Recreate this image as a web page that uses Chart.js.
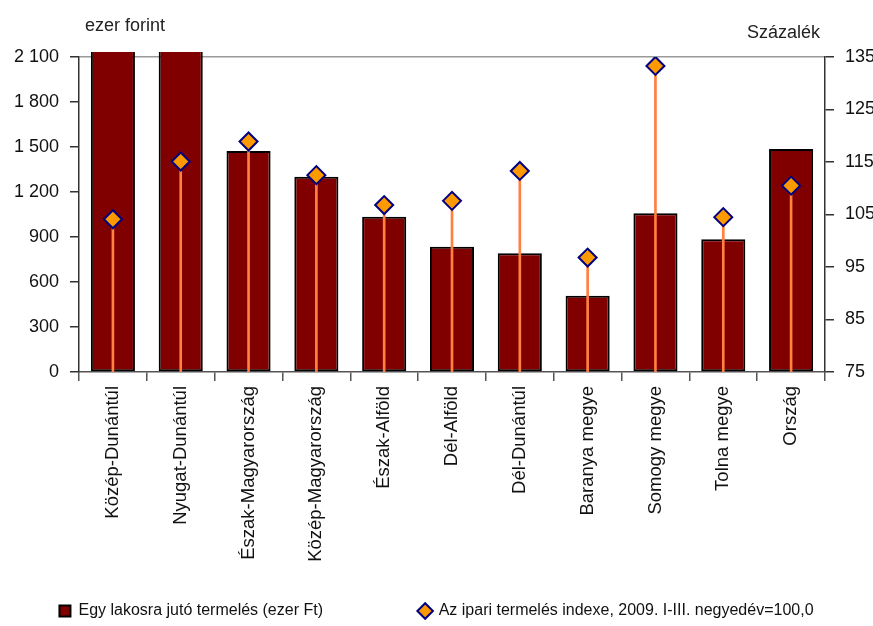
<!DOCTYPE html>
<html>
<head>
<meta charset="utf-8">
<script src="https://cdn.jsdelivr.net/npm/chart.js@4/dist/chart.umd.min.js"></script>
<style>
  html, body { margin: 0; padding: 0; background: #fff; }
  #wrap { width: 873px; height: 626px; }
</style>
</head>
<body>
<div id="wrap"><canvas id="termelesChart"></canvas></div>
<script>
// regiok / megyek
const categories = ['Közép-Dunántúl', 'Nyugat-Dunántúl', 'Észak-Magyarország', 'Közép-Magyarország',
  'Észak-Alföld', 'Dél-Alföld', 'Dél-Dunántúl', 'Baranya megye', 'Somogy megye', 'Tolna megye', 'Ország'];

// egy lakosra juto termeles, ezer Ft (az elso ketto kilog a skalarol)
const termeles = [2500, 2450, 1473, 1302, 1035, 835, 791, 509, 1058, 885, 1487];

// ipari termeles indexe, 2009. I-III. negyedev = 100,0
const ipariIndex = [104.1, 115.1, 118.9, 112.5, 106.8, 107.6, 113.3, 96.8, 133.3, 104.5, 110.5];

// tengely beosztasok
const leftTicks = [0, 300, 600, 900, 1200, 1500, 1800, 2100];
const rightTicks = [75, 85, 95, 105, 115, 125, 135];

const labelBar = 'Egy lakosra jutó termelés (ezer Ft)';
const labelIndex = 'Az ipari termelés indexe, 2009. I-III. negyedév=100,0';

const FONT = "'Liberation Sans', Arial, sans-serif";

// "2 100" forma
function spaced(v) {
  return String(v).replace(/\B(?=(\d{3})+(?!\d))/g, ' ');
}

// tengelycimek a ket fuggoleges tengely folott
const axisTitles = {
  id: 'axisTitles',
  afterDraw(chart) {
    const c = chart.ctx;
    const area = chart.chartArea;
    c.save();
    c.fillStyle = '#222';
    c.font = '18px ' + FONT;
    c.textBaseline = 'alphabetic';
    c.textAlign = 'left';
    c.fillText('ezer forint', area.left + 6, 31);
    c.textAlign = 'right';
    c.fillText('Százalék', area.right - 5, 38);
    c.restore();
  }
};

let ctx = document.getElementById('termelesChart').getContext('2d');

let termelesChart = new Chart(ctx, {
  type: 'bar',
  data: {
    labels: categories,
    datasets: [
      {
        type: 'line',
        label: labelIndex,
        data: ipariIndex,
        yAxisID: 'y1',
        showLine: false,
        pointStyle: 'rectRot',
        pointRadius: 9,
        pointHoverRadius: 9,
        pointBackgroundColor: '#FF9900',
        pointBorderColor: '#000080',
        pointBorderWidth: 2,
        backgroundColor: '#FF9900',
        borderColor: '#000080',
        borderWidth: 2,
        order: 0
      },
      {
        // fuggoleges vonal a ponttol a tengelyig
        label: 'drop',
        data: ipariIndex.map(v => [75, v]),
        yAxisID: 'y1',
        backgroundColor: '#FF8040',
        borderWidth: 0,
        barThickness: 2,
        grouped: false,
        order: 1
      },
      {
        label: labelBar,
        data: termeles,
        yAxisID: 'y',
        backgroundColor: '#800000',
        borderColor: '#000000',
        borderWidth: 2,
        borderSkipped: false,
        pointStyle: 'rect',
        barPercentage: 0.65,
        categoryPercentage: 1,
        grouped: false,
        clip: { left: 0, top: 5, right: 0, bottom: 0 },
        order: 2
      }
    ]
  },
  options: {
    responsive: true,
    maintainAspectRatio: false,
    animation: false,
    layout: { padding: { top: 57, left: 0, right: 0, bottom: -3 } },
    plugins: {
      tooltip: { enabled: false },
      legend: {
        position: 'bottom',
        reverse: true,
        labels: {
          usePointStyle: true,
          boxWidth: 11,
          boxHeight: 11,
          padding: 30,
          color: '#111',
          font: { family: FONT, size: 16 },
          filter: item => item.text !== 'drop',
          generateLabels: chart => {
            const items = Chart.defaults.plugins.legend.labels.generateLabels(chart);
            items.forEach(it => {
              // terkoz a ket jelmagyarazat kozott
              if (it.text === labelBar) it.text = labelBar + '\u00A0'.repeat(15);
            });
            return items;
          }
        }
      }
    },
    scales: {
      x: {
        offset: true,
        grid: { display: true, drawOnChartArea: false, offset: true, tickLength: 9, tickColor: '#555', lineWidth: 1.5 },
        border: { color: '#555', width: 1.5 },
        ticks: {
          minRotation: 90,
          maxRotation: 90,
          padding: 5,
          color: '#111',
          font: { family: FONT, size: 18.5 }
        },
        afterFit: s => { s.height = 201; }
      },
      y: {
        position: 'left',
        min: 0,
        max: 2100,
        afterBuildTicks: s => { s.ticks = leftTicks.map(v => ({ value: v })); },
        grid: {
          color: c => (c.tick && c.tick.value === 2100) ? '#9a9a9a' : 'rgba(0,0,0,0)',
          tickColor: '#333',
          tickLength: 9,
          lineWidth: 1.5
        },
        border: { color: '#333', width: 1.5 },
        ticks: {
          padding: 11,
          color: '#111',
          font: { family: FONT, size: 18 },
          callback: v => spaced(v)
        },
        afterFit: s => { s.width = 79; }
      },
      y1: {
        position: 'right',
        min: 75,
        max: 135,
        afterBuildTicks: s => { s.ticks = rightTicks.map(v => ({ value: v })); },
        grid: { drawOnChartArea: false, tickColor: '#333', tickLength: 9, lineWidth: 1.5 },
        border: { color: '#333', width: 1.5 },
        ticks: {
          padding: 11,
          color: '#111',
          font: { family: FONT, size: 18 }
        },
        afterFit: s => { s.width = 48; }
      }
    }
  },
  plugins: [axisTitles]
});
</script>
</body>
</html>
